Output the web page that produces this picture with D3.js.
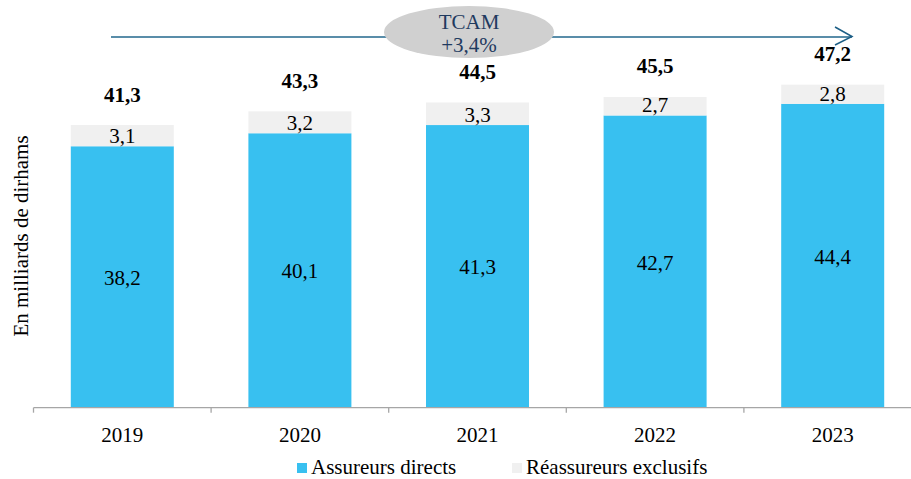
<!DOCTYPE html>
<html>
<head>
<meta charset="utf-8">
<script src="https://cdn.jsdelivr.net/npm/d3@7"></script>
<style>
  body { margin: 0; background: #fff; }
</style>
</head>
<body>
<svg id="chart" width="911" height="479" style="font-family: 'Liberation Serif', 'DejaVu Serif', serif;"></svg>
<script>
// data
var years = ["2019", "2020", "2021", "2022", "2023"]
var directs = [38.2, 40.1, 41.3, 42.7, 44.4]
var exclusifs = [3.1, 3.2, 3.3, 2.7, 2.8]
var totals = [41.3, 43.3, 44.5, 45.5, 47.2]
var seriesNames = ["Assureurs directs", "Réassureurs exclusifs"]
var colors = ["#38c0f0", "#f0f0f0"]
var tcam = ["TCAM", "+3,4%"]

const BASE_Y = 407.7
const X_LEFT = 33.5
const BAND = 177.6
const FS = 21
var svg = d3.select("#chart")
var fmt = v => v.toFixed(1).replace(".", ",")

var x = d3.scaleBand().domain(years)
    .range([X_LEFT, X_LEFT + BAND * years.length])
    .paddingInner(0.42).paddingOuter(0.21)
var y = d3.scaleLinear().domain([0, 50]).range([BASE_Y, 65.5])

var rows = years.map((d, i) => ({ year: d, directs: directs[i], exclusifs: exclusifs[i], total: totals[i] }))
var stack = d3.stack().keys(["directs", "exclusifs"])(rows)

// bars
svg.append("g").selectAll("g")
    .data(stack)
    .enter().append("g")
    .attr("fill", (d, i) => colors[i])
    .selectAll("rect")
    .data(d => d)
    .enter().append("rect")
    .attr("x", d => x(d.data.year))
    .attr("y", d => y(d[1]))
    .attr("width", x.bandwidth())
    .attr("height", d => y(d[0]) - y(d[1]))

// x axis line + ticks between categories
var axis = svg.append("g").attr("stroke", "#a6a6a6").attr("stroke-width", 1.3)
axis.append("line")
    .attr("x1", X_LEFT).attr("x2", 911)
    .attr("y1", BASE_Y).attr("y2", BASE_Y)
years.forEach((d, i) => {
    var tx = X_LEFT + BAND * i
    axis.append("line").attr("x1", tx).attr("x2", tx).attr("y1", BASE_Y).attr("y2", BASE_Y + 5)
})

svg.append("g").selectAll("text")
    .data(years)
    .enter().append("text")
    .attr("x", d => x(d) + x.bandwidth() / 2)
    .attr("y", 441.5)
    .attr("text-anchor", "middle")
    .attr("font-size", FS)
    .attr("fill", "#000")
    .text(d => d)

// value labels
var lab = svg.append("g").attr("text-anchor", "middle").attr("fill", "#000").attr("font-size", FS)
lab.selectAll("text.dir")
    .data(rows)
    .enter().append("text")
    .attr("class", "dir")
    .attr("x", d => x(d.year) + x.bandwidth() / 2)
    .attr("y", d => (y(0) + y(d.directs)) / 2 + 8)
    .text(d => fmt(d.directs))
lab.selectAll("text.exc")
    .data(rows)
    .enter().append("text")
    .attr("class", "exc")
    .attr("x", d => x(d.year) + x.bandwidth() / 2)
    .attr("y", d => y(d.directs) - 3)
    .text(d => fmt(d.exclusifs))
lab.selectAll("text.tot")
    .data(rows)
    .enter().append("text")
    .attr("class", "tot")
    .attr("x", d => x(d.year) + x.bandwidth() / 2)
    .attr("y", d => y(d.directs + d.exclusifs) - 23.5)
    .attr("font-weight", "bold")
    .text(d => fmt(d.total))

// y axis title
svg.append("text")
    .attr("transform", "translate(28,236) rotate(-90)")
    .attr("text-anchor", "middle")
    .attr("font-size", FS)
    .attr("fill", "#000")
    .text("En milliards de dirhams")

// TCAM arrow
svg.append("line")
    .attr("x1", 111).attr("x2", 852)
    .attr("y1", 37).attr("y2", 37)
    .attr("stroke", "#22678c").attr("stroke-width", 1.5)
svg.append("path")
    .attr("d", "M835,27 L852,36.5 L835,45")
    .attr("fill", "none").attr("stroke", "#1d5f86").attr("stroke-width", 1.5)
svg.append("ellipse")
    .attr("cx", 469).attr("cy", 32).attr("rx", 85).attr("ry", 26)
    .attr("fill", "#d0d0d0")
svg.append("g").selectAll("text")
    .data(tcam)
    .enter().append("text")
    .attr("x", 469)
    .attr("y", (d, i) => 28.5 + i * 23)
    .attr("text-anchor", "middle")
    .attr("font-size", FS)
    .attr("fill", "#1f3a5f")
    .text(d => d)

// legend
var legendX = [297, 512]
var legend = svg.append("g").selectAll("g")
    .data(seriesNames)
    .enter().append("g")
    .attr("transform", (d, i) => "translate(" + legendX[i] + ",0)")
legend.append("rect")
    .attr("x", 0).attr("y", 463)
    .attr("width", 10).attr("height", 10)
    .attr("fill", (d, i) => colors[i])
legend.append("text")
    .attr("x", 14).attr("y", 473.5)
    .attr("font-size", FS)
    .attr("fill", "#000")
    .text(d => d)
</script>
</body>
</html>
